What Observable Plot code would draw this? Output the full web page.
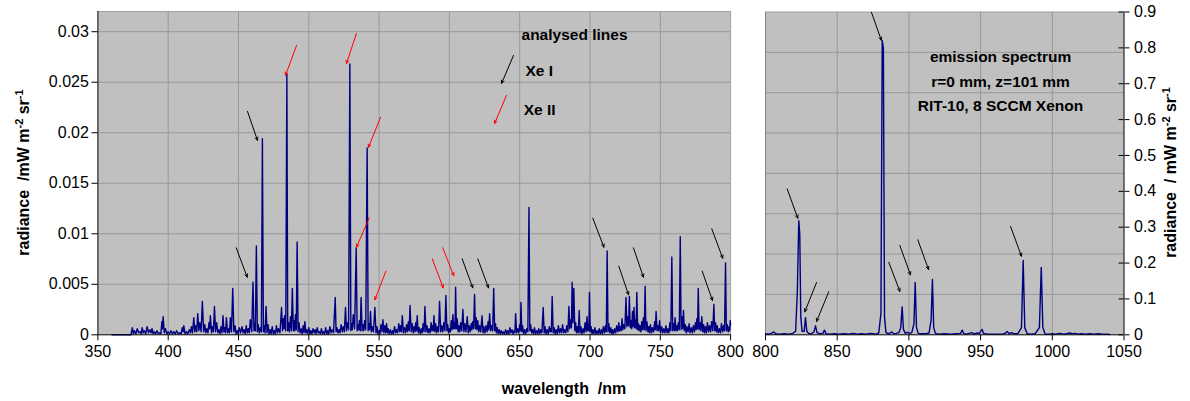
<!DOCTYPE html>
<html><head><meta charset="utf-8">
<script src="https://cdn.jsdelivr.net/npm/d3@7"></script>
<script src="https://cdn.jsdelivr.net/npm/@observablehq/plot@0.6"></script>
<style>
body{margin:0;background:#fff;}
#chart{position:relative;width:1190px;height:401px;overflow:hidden;font-family:Arial,"Liberation Sans",sans-serif;}
#chart svg{position:absolute;left:0;top:0;}
</style></head><body><div id="chart"></div>
<script>
// ---- data ----
const visSpectrum = [
[360,0],[373.5,0],[374.5,0.0007],[375.2,0.0001],[376,0.0004],[377,0.0001],[378,0.0006],[379,0.0002],[380,0.0003],[380.8,0.0001],[381.5,0.0007],[382.3,0.0002],[383,0.0004],[384,0.0001],[385,0.0008],[386,0.0002],[387,0.0005],[387.8,0.0002],[388.5,0.0006],[389.3,0.0001],[390,0.0003],[391,0.0001],[392,0.0004],[393,0.0001],[394,0.0002],[394.8,0.0001],[395.5,0.0013],[395.9,0.0006],[396.4,0.0018],[397.2,0.0002],[398,0.0006],[399,0.0001],[400,0.0003],[401,0.0001],[402,0.0004],[403,0.0001],[404,0.0003],[405,0.0001],[406,0.0004],[407,0.0001],[408,0.0002],[409.2,0.0001],[410,0.0007],[410.6,0.0003],[411.1,0.0009],[412,0.0001],[413,0.0003],[414,0.0001],[415,0.0005],[415.8,0.0002],[416.5,0.0008],[417.3,0.0002],[418.2,0.0017],[418.9,0.0003],[419.5,0.0009],[420.3,0.0003],[421,0.0021],[421.8,0.0004],[422.5,0.0012],[423.4,0.0003],[424.3,0.0033],[425.2,0.0003],[426,0.0010],[426.8,0.0002],[427.5,0.0006],[428.3,0.0002],[429,0.0012],[429.5,0.0006],[430,0.0019],[430.8,0.0002],[431.5,0.0008],[432.2,0.0003],[432.9,0.0028],[433.7,0.0003],[434.5,0.0012],[435.3,0.0002],[436,0.0005],[436.8,0.0001],[437.5,0.0008],[438.3,0.0002],[439,0.0019],[439.6,0.0003],[440.2,0.0007],[440.8,0.0002],[441.4,0.0017],[442.2,0.0002],[443,0.0006],[443.6,0.0002],[444.2,0.0017],[445,0.0003],[445.9,0.0046],[446.7,0.0003],[447.5,0.0009],[448.3,0.0001],[449,0.0004],[449.8,0.0001],[450.5,0.0007],[451.5,0.0002],[452.5,0.0008],[453.3,0.0002],[454,0.0005],[454.8,0.0001],[455.5,0.0009],[456.3,0.0002],[457,0.0006],[457.7,0.0002],[458.4,0.0015],[459.4,0.0003],[460.3,0.0052],[461,0.0004],[461.5,0.0011],[462,0.0004],[462.7,0.0088],[463.4,0.0003],[464,0.0010],[464.8,0.0002],[465.5,0.0007],[466.3,0.0003],[467,0.0194],[467.7,0.0003],[468.2,0.0009],[468.9,0.0002],[469.6,0.0028],[470.3,0.0002],[471,0.0010],[471.8,0.0001],[472.5,0.0005],[473.2,0.0001],[474,0.0008],[474.8,0.0001],[475.5,0.0004],[476.2,0.0001],[477,0.0009],[477.8,0.0002],[478.5,0.0006],[479.5,0.0002],[480.6,0.0027],[481.3,0.0004],[482,0.0016],[482.4,0.0006],[482.8,0.0019],[483.6,0.0004],[484.4,0.0258],[485,0.0004],[485.6,0.0012],[486.2,0.0003],[487,0.0018],[487.6,0.0004],[488.3,0.0046],[489,0.0004],[489.5,0.0014],[490,0.0004],[490.5,0.0020],[491.1,0.0005],[491.7,0.0092],[492.4,0.0003],[493,0.0012],[493.8,0.0002],[494.5,0.0006],[495.3,0.0001],[496,0.0009],[496.6,0.0002],[497.2,0.0013],[497.9,0.0002],[498.5,0.0005],[499.2,0.0001],[500,0.0007],[500.8,0.0001],[501.5,0.0004],[502.2,0.0001],[503,0.0006],[503.8,0.0002],[504.5,0.0005],[505.2,0.0001],[506,0.0007],[506.8,0.0002],[507.5,0.0003],[508.2,0.0001],[509,0.0006],[509.8,0.0001],[510.5,0.0003],[511.2,0.0001],[512,0.0007],[512.8,0.0001],[513.5,0.0004],[514.2,0.0001],[515,0.0008],[515.8,0.0002],[516.5,0.0005],[517.6,0.0002],[518.8,0.0037],[519.4,0.0003],[520,0.0007],[520.8,0.0002],[521.5,0.0005],[522.2,0.0002],[523,0.0010],[523.8,0.0003],[524.5,0.0008],[525.3,0.0003],[526.1,0.0027],[526.8,0.0004],[527.5,0.0012],[528.3,0.0005],[529.2,0.0268],[529.9,0.0004],[530.5,0.0011],[531,0.0005],[531.6,0.0020],[532.6,0.0006],[533.7,0.0086],[534.4,0.0004],[535,0.0010],[535.5,0.0005],[536,0.0014],[536.6,0.0004],[537.2,0.0037],[537.9,0.0004],[538.5,0.0010],[539.1,0.0004],[539.7,0.0014],[540.5,0.0005],[541.5,0.0185],[542.2,0.0004],[542.8,0.0011],[543.3,0.0005],[543.9,0.0023],[544.5,0.0003],[545.2,0.0008],[546,0.0003],[547,0.0027],[547.8,0.0002],[548.5,0.0008],[549.2,0.0001],[550,0.0004],[550.6,0.0001],[551.3,0.0010],[552,0.0003],[552.7,0.0015],[553.4,0.0002],[554,0.0009],[554.7,0.0002],[555.3,0.0011],[555.9,0.0002],[556.5,0.0006],[557.2,0.0001],[558,0.0005],[558.8,0.0001],[559.5,0.0004],[560.2,0.0001],[561,0.0008],[561.8,0.0002],[562.5,0.0005],[563.2,0.0002],[564,0.0011],[564.7,0.0003],[565.3,0.0009],[565.9,0.0003],[566.5,0.0019],[567.3,0.0002],[568,0.0007],[568.8,0.0002],[569.5,0.0010],[570.2,0.0003],[570.8,0.0013],[571.4,0.0004],[572,0.0029],[572.8,0.0003],[573.5,0.0011],[574.3,0.0002],[575,0.0008],[575.5,0.0003],[576,0.0012],[576.6,0.0004],[577.1,0.0019],[577.8,0.0002],[578.5,0.0007],[579.3,0.0001],[580,0.0006],[580.7,0.0002],[581.3,0.0011],[582,0.0003],[582.6,0.0028],[583.3,0.0003],[584,0.0009],[584.8,0.0002],[585.5,0.0006],[586.3,0.0002],[587,0.0012],[587.5,0.0004],[588,0.0009],[588.5,0.0004],[589,0.0019],[589.6,0.0003],[590.2,0.0011],[590.9,0.0002],[591.5,0.0008],[592.3,0.0003],[593,0.0033],[593.8,0.0003],[594.5,0.0009],[595.3,0.0003],[596,0.0012],[596.8,0.0004],[597.5,0.0039],[598.2,0.0004],[598.8,0.0010],[599.4,0.0002],[600,0.0006],[600.7,0.0003],[601.3,0.0014],[601.9,0.0005],[602.5,0.0020],[603,0.0006],[603.5,0.0012],[604,0.0006],[604.4,0.0047],[605,0.0006],[605.5,0.0016],[606.2,0.0003],[606.8,0.0009],[607.4,0.0003],[608,0.0012],[608.8,0.0004],[609.6,0.0025],[610.3,0.0003],[611,0.0011],[611.8,0.0003],[612.7,0.0018],[613.4,0.0002],[614,0.0009],[614.8,0.0003],[615.5,0.0011],[616,0.0005],[616.5,0.0013],[617.2,0.0006],[617.9,0.0040],[618.5,0.0006],[619,0.0017],[619.6,0.0005],[620.2,0.0014],[620.9,0.0003],[621.5,0.0009],[622.3,0.0003],[623.2,0.0019],[623.9,0.0002],[624.5,0.0008],[625.3,0.0002],[626,0.0009],[626.8,0.0003],[627.5,0.0013],[628,0.0005],[628.6,0.0021],[629.3,0.0004],[630,0.0009],[630.8,0.0004],[631.5,0.0046],[632.2,0.0004],[632.8,0.0011],[633.4,0.0002],[634,0.0007],[634.8,0.0001],[635.5,0.0005],[636.3,0.0001],[637,0.0004],[637.8,0.0001],[638.5,0.0003],[639.3,0.0001],[640,0.0005],[640.8,0.0001],[641.5,0.0004],[642.3,0.0001],[643,0.0007],[643.8,0.0002],[644.5,0.0005],[645.3,0.0001],[646,0.0004],[646.6,0.0002],[647.1,0.0021],[647.8,0.0002],[648.5,0.0006],[649.3,0.0002],[650,0.0010],[650.5,0.0004],[650.9,0.0032],[651.5,0.0003],[652,0.0009],[652.8,0.0001],[653.5,0.0005],[654.3,0.0001],[655,0.0006],[655.8,0.0003],[656.6,0.0126],[657.2,0.0004],[657.8,0.0010],[658.4,0.0002],[659,0.0005],[659.8,0.0001],[660.5,0.0007],[661.3,0.0001],[662,0.0004],[662.8,0.0001],[663.5,0.0006],[664.3,0.0001],[665,0.0005],[665.8,0.0002],[666.7,0.0027],[667.4,0.0002],[668,0.0008],[668.8,0.0001],[669.5,0.0005],[670.3,0.0001],[671,0.0008],[671.5,0.0003],[672,0.0006],[672.5,0.0003],[673.1,0.0038],[673.8,0.0002],[674.5,0.0007],[675.3,0.0001],[676,0.0005],[676.8,0.0001],[677.5,0.0009],[678.3,0.0002],[679,0.0006],[679.8,0.0002],[680.5,0.0010],[681.3,0.0002],[682,0.0005],[682.8,0.0002],[683.5,0.0009],[684.3,0.0003],[685,0.0028],[685.6,0.0006],[686.2,0.0015],[686.8,0.0007],[687.3,0.0052],[687.9,0.0012],[688.5,0.0046],[689.2,0.0004],[689.8,0.0012],[690.4,0.0002],[691,0.0008],[691.7,0.0002],[692.3,0.0024],[692.9,0.0002],[693.5,0.0008],[694.3,0.0001],[695,0.0006],[695.8,0.0002],[696.5,0.0012],[697.2,0.0003],[697.9,0.0018],[698.4,0.0004],[698.8,0.0010],[699.2,0.0004],[699.6,0.0042],[700.2,0.0003],[700.8,0.0008],[701.4,0.0001],[702,0.0005],[702.8,0.0001],[703.5,0.0007],[704.3,0.0001],[705,0.0004],[705.8,0.0001],[706.5,0.0006],[707.3,0.0001],[708,0.0005],[708.8,0.0001],[709.5,0.0008],[710.3,0.0002],[711,0.0009],[711.6,0.0003],[712.2,0.0083],[712.8,0.0003],[713.4,0.0011],[714.1,0.0002],[714.8,0.0007],[715.4,0.0001],[716,0.0005],[716.8,0.0001],[717.5,0.0006],[718.3,0.0002],[719,0.0009],[719.8,0.0003],[720.5,0.0012],[721,0.0004],[721.5,0.0008],[722.2,0.0004],[722.8,0.0016],[723.4,0.0005],[724,0.0010],[724.8,0.0006],[725.6,0.0037],[726.2,0.0008],[726.8,0.0018],[727.4,0.0009],[728,0.0038],[728.6,0.0007],[729.2,0.0014],[729.7,0.0006],[730.2,0.0023],[730.8,0.0008],[731.3,0.0027],[731.8,0.0007],[732.3,0.0015],[732.8,0.0006],[733.3,0.0042],[733.9,0.0005],[734.5,0.0011],[735,0.0004],[735.5,0.0009],[736.2,0.0003],[736.8,0.0013],[737.4,0.0005],[738,0.0017],[738.6,0.0005],[739.2,0.0048],[739.8,0.0004],[740.5,0.0013],[741.2,0.0003],[741.8,0.0008],[742.4,0.0002],[743,0.0010],[743.8,0.0002],[744.5,0.0007],[745.3,0.0003],[746,0.0013],[746.5,0.0005],[747,0.0023],[747.7,0.0004],[748.3,0.0009],[748.9,0.0004],[749.5,0.0014],[750.2,0.0002],[751,0.0008],[751.8,0.0002],[752.5,0.0006],[753.3,0.0002],[754,0.0009],[754.8,0.0002],[755.5,0.0006],[756.2,0.0002],[756.8,0.0012],[757.5,0.0004],[758.2,0.0077],[758.8,0.0004],[759.4,0.0011],[760,0.0004],[760.5,0.0017],[761.1,0.0004],[761.7,0.0009],[762.2,0.0004],[762.8,0.0012],[763.5,0.0005],[764.2,0.0097],[764.8,0.0005],[765.4,0.0018],[766,0.0006],[766.5,0.0024],[767.1,0.0004],[767.8,0.0010],[768.4,0.0002],[769,0.0008],[769.8,0.0003],[770.5,0.0011],[771.2,0.0002],[772,0.0007],[772.8,0.0002],[773.5,0.0009],[774.3,0.0003],[775,0.0012],[775.5,0.0005],[776,0.0016],[776.5,0.0006],[777,0.0046],[777.6,0.0005],[778.2,0.0012],[778.9,0.0004],[779.5,0.0018],[780.2,0.0003],[780.8,0.0010],[781.4,0.0002],[782,0.0008],[782.8,0.0002],[783.5,0.0012],[784.3,0.0003],[785,0.0009],[785.8,0.0003],[786.5,0.0013],[787.3,0.0004],[788.1,0.0030],[788.7,0.0004],[789.3,0.0012],[789.9,0.0003],[790.5,0.0009],[791.2,0.0002],[792,0.0006],[792.8,0.0002],[793.5,0.0011],[794.3,0.0003],[795,0.0009],[795.7,0.0004],[796.4,0.0071],[797,0.0004],[797.6,0.0010],[798.3,0.0003],[799,0.0008],[799.4,0.0004],[799.7,0.0014],[800,0.0010]
];
const irSpectrum = [
[800,0.003],[802,0.002],[804,0.004],[805.8,0.008],[807,0.003],[810,0.002],[813,0.003],[816,0.002],[819,0.004],[821,0.01],[822.2,0.12],[823.2,0.318],[823.9,0.28],[824.6,0.05],[825.5,0.01],[827,0.01],[827.9,0.048],[828.8,0.01],[830,0.004],[832,0.003],[833.8,0.008],[834.9,0.025],[835.9,0.006],[838,0.003],[840,0.004],[841.1,0.013],[842.2,0.003],[845,0.002],[848,0.003],[851,0.002],[855,0.003],[858,0.002],[861,0.004],[864,0.002],[867,0.003],[870,0.002],[873,0.004],[875,0.003],[877,0.002],[879,0.005],[880.5,0.06],[881.4,0.82],[882.2,0.80],[883.0,0.05],[884,0.006],[886,0.003],[888,0.008],[889.5,0.003],[891,0.004],[893,0.006],[894.3,0.02],[895.3,0.078],[896.2,0.015],[897.5,0.004],[899,0.007],[900.5,0.004],[902,0.006],[903.5,0.03],[904.4,0.146],[905.3,0.02],[906.5,0.004],[909,0.003],[912,0.003],[914,0.005],[915.5,0.04],[916.4,0.154],[917.3,0.02],[918.5,0.004],[921,0.002],[925,0.003],[929,0.002],[933,0.003],[936,0.004],[937.2,0.013],[938.3,0.003],[940,0.002],[942,0.004],[944,0.006],[945.5,0.002],[947.5,0.005],[949,0.004],[951.1,0.015],[952,0.004],[955,0.002],[958,0.002],[962,0.002],[965,0.002],[967,0.004],[968.5,0.009],[970,0.003],[971.5,0.006],[973,0.003],[976,0.003],[978.5,0.02],[979.7,0.207],[980.8,0.02],[982.5,0.003],[985,0.002],[988,0.003],[991,0.02],[992.3,0.188],[993.4,0.02],[995,0.002],[998,0.002],[1000,0.003],[1002,0.002],[1005,0.004],[1008,0.002],[1010,0.003],[1012,0.005],[1014,0.003],[1016,0.004],[1018,0.002],[1020,0.003],[1023,0.002],[1026,0.003],[1029,0.002],[1032,0.003],[1035,0.002],[1038,0.002],[1040,0.001]
];
const visTicksX = [350,400,450,500,550,600,650,700,750,800];
const visTicksY = [0,0.005,0.01,0.015,0.02,0.025,0.03];
const irTicksX = [800,850,900,950,1000,1050];
const irTicksY = [0,0.1,0.2,0.3,0.4,0.5,0.6,0.7,0.8,0.9];
const irGridY = [0.1125,0.225,0.3375,0.45,0.5625,0.675,0.7875];
// arrows: [x1, y1, x2, y2] in data units
const visArrowsXeI = [[448.4,0.00861,456.2,0.00570],[456.4,0.02211,463.5,0.01924],[609.1,0.00752,616.6,0.00465],[620.2,0.00752,627.8,0.00465],[702.0,0.01154,709.9,0.00867],[720.5,0.00679,727.4,0.00396],[730.9,0.00861,738.0,0.00570],[779.8,0.00630,787.1,0.00340],[786.6,0.01049,794.4,0.00758],[645.6,0.02765,637.1,0.02488]];
const visArrowsXeII = [[491.3,0.02864,483.4,0.02567],[533.9,0.02983,526.8,0.02686],[551.0,0.02152,542.4,0.01854],[543.0,0.01158,533.9,0.00867],[554.8,0.00630,547.0,0.00347],[587.8,0.00752,595.6,0.00465],[595.3,0.00861,603.1,0.00584],[640.6,0.0237,632.1,0.0209]];
const irArrowsXeI = [[815.1,0.407,822.5,0.325],[835.6,0.146,827.4,0.064],[844.1,0.120,835.6,0.037],[886.0,0.202,893.7,0.121],[893.7,0.249,901.1,0.167],[906.2,0.265,913.7,0.182],[970.9,0.302,978.5,0.219],[873.9,0.899,880.8,0.821]];
const visNoteText = ["analysed lines","Xe I","Xe II"];
const visNoteX = [651.3,654.1,652.9];
const visNoteY = [0.0297,0.0261,0.0222];
const irNoteText = ["emission spectrum","r=0 mm, z=101 mm","RIT-10, 8 SCCM Xenon"];
const irNoteX = [963.9,963.9,963.9];
const irNoteY = [0.774,0.704,0.637];

// ---- drawing ----
const W = 1190, H = 401;
const FONT = "Arial, 'Liberation Sans', sans-serif";
const GRID = "#989898", BG = "#c0c0c0", LINE = "#000080";
const fmt = d => String(d);
const arrowOpts = (c) => ({x1: d => d[0], y1: d => d[1], x2: d => d[2], y2: d => d[3], stroke: c, strokeWidth: 1, headLength: 5, headAngle: 50});
const noteData = (t, xs, ys) => t.map((s, i) => ({s, x: xs[i], y: ys[i]}));

const left = Plot.plot({
  width: W, height: H,
  marginLeft: 97.4, marginRight: W - 730.1, marginTop: 11, marginBottom: H - 334.3,
  style: {fontFamily: FONT, fontSize: "16px", color: "#000", background: "transparent", overflow: "visible"},
  x: {domain: [350, 800]},
  y: {domain: [0, 0.032]},
  marks: [
    Plot.frame({fill: BG, stroke: "none"}),
    Plot.gridX(visTicksX.slice(1, -1), {stroke: GRID, strokeOpacity: 1}),
    Plot.gridY(visTicksY.slice(1), {stroke: GRID, strokeOpacity: 1}),
    Plot.ruleY([0.032], {stroke: "#a0a0a0"}),
    Plot.ruleX([800], {stroke: "#a0a0a0"}),
    Plot.line(visSpectrum, {x: d => d[0], y: d => d[1], stroke: LINE, strokeWidth: 1.4}),
    Plot.ruleX([350], {stroke: "#000"}),
    Plot.ruleY([0], {stroke: "#000"}),
    Plot.arrow(visArrowsXeI, arrowOpts("#000")),
    Plot.arrow(visArrowsXeII, arrowOpts("#ff0000")),
    Plot.text(noteData(visNoteText, visNoteX, visNoteY), {x: "x", y: "y", text: "s", textAnchor: "start", fontWeight: "bold", fontSize: 15.5, fill: "#000"}),
    Plot.axisX(visTicksX, {tickSize: 6, tickPadding: 5, fontSize: 16, tickFormat: fmt, label: null}),
    Plot.axisY(visTicksY, {tickSize: 6, tickPadding: 3, fontSize: 16, tickFormat: fmt, label: null})
  ]
});

const right = Plot.plot({
  width: W, height: H,
  marginLeft: 765, marginRight: W - 1123.5, marginTop: 11.5, marginBottom: H - 334.3,
  style: {fontFamily: FONT, fontSize: "16px", color: "#000", background: "transparent", overflow: "visible"},
  x: {domain: [800, 1050]},
  y: {domain: [0, 0.9]},
  marks: [
    Plot.frame({fill: BG, stroke: "none"}),
    Plot.gridX(irTicksX.slice(1, -1), {stroke: GRID, strokeOpacity: 1}),
    Plot.gridY(irGridY, {stroke: GRID, strokeOpacity: 1}),
    Plot.ruleY([0.9], {stroke: "#a0a0a0"}),
    Plot.ruleX([800], {stroke: "#808080"}),
    Plot.line(irSpectrum, {x: d => d[0], y: d => d[1], stroke: LINE, strokeWidth: 1.4}),
    Plot.ruleY([0], {stroke: "#000"}),
    Plot.ruleX([1050], {stroke: "#000"}),
    Plot.ruleY(irTicksY, {x1: 1050, x2: 1050, insetLeft: -5, stroke: "#000"}),
    Plot.arrow(irArrowsXeI, arrowOpts("#000")),
    Plot.text(noteData(irNoteText, irNoteX, irNoteY), {x: "x", y: "y", text: "s", textAnchor: "middle", fontWeight: "bold", fontSize: 15.5, fill: "#000"}),
    Plot.axisX(irTicksX, {tickSize: 6, tickPadding: 5, fontSize: 16, tickFormat: fmt, label: null}),
    Plot.axisY(irTicksY, {anchor: "right", tickSize: 5, tickPadding: 5, fontSize: 16, tickFormat: fmt, label: null})
  ]
});

const chart = document.getElementById("chart");
chart.appendChild(left);
chart.appendChild(right);

function yTitle(svg, x, y, parts) {
  const t = d3.select(svg).append("text")
    .attr("transform", `translate(${x},${y}) rotate(-90)`)
    .attr("text-anchor", "middle").attr("font-weight", "bold").attr("font-size", 16)
    .attr("font-family", FONT).attr("fill", "#000").style("white-space", "pre");
  t.append("tspan").text(parts[0]);
  t.append("tspan").attr("baseline-shift", "super").attr("font-size", 11).text("-2");
  t.append("tspan").text(" sr");
  t.append("tspan").attr("baseline-shift", "super").attr("font-size", 11).text("-1");
}
yTitle(left, 29, 172.5, ["radiance  /mW m"]);
yTitle(right, 1176, 172.5, ["radiance  / mW m"]);
d3.select(left).append("text").attr("x", 564).attr("y", 394).attr("text-anchor", "middle")
  .attr("font-weight", "bold").attr("font-size", 16).attr("font-family", FONT).attr("fill", "#000")
  .style("white-space", "pre").text("wavelength  /nm");
</script></body></html>
